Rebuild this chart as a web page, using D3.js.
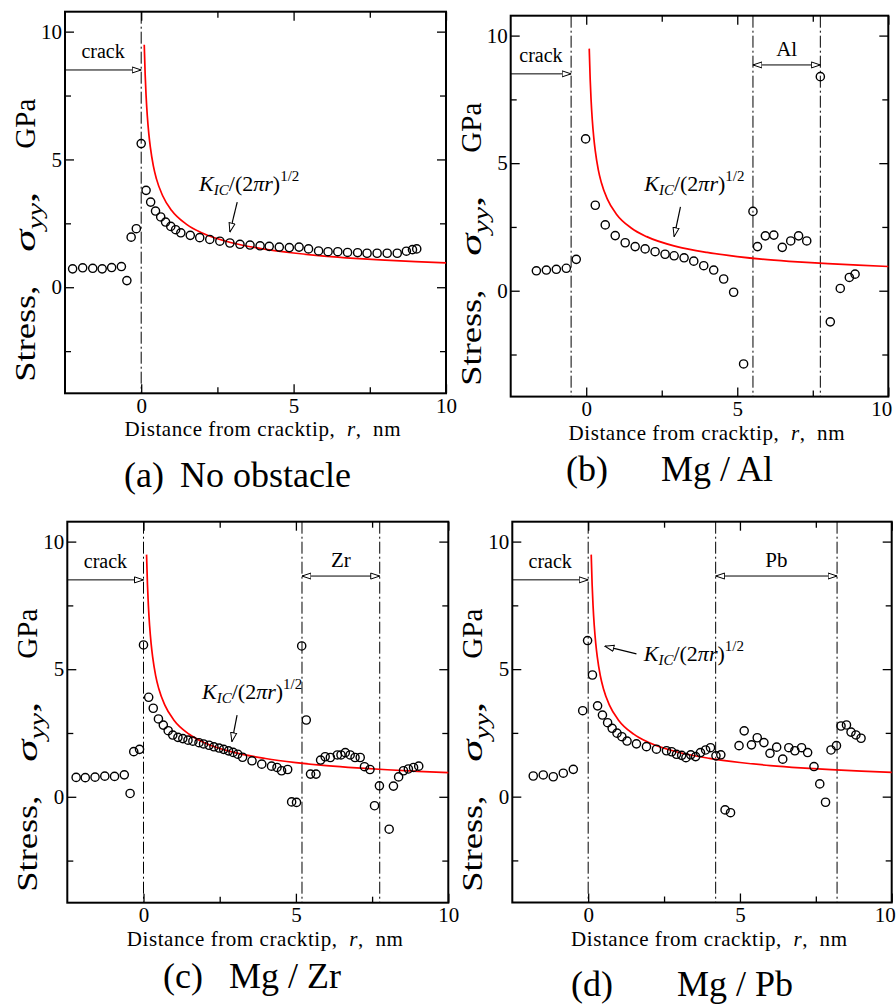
<!DOCTYPE html>
<html>
<head>
<meta charset="utf-8">
<script src="https://cdn.jsdelivr.net/npm/d3@7"></script>
<style>
  body { margin: 0; background: #fff; }
  svg { font-family: "Liberation Serif", "Times New Roman", serif; }
  text { white-space: pre; }
</style>
</head>
<body>
<svg id="chart" width="896" height="1008"></svg>
<script>
// ---- data ----
var panelTags = ["(a)", "(b)", "(c)", "(d)"];
var panelNames = ["No obstacle", "Mg / Al", "Mg / Zr", "Mg / Pb"];
var xMajor = [0, 5, 10], xMinor = [2.5, 7.5];
var yMajor = [0, 5, 10], yMinor = [-2.5, 2.5, 7.5];
var xDomain = [-2.5, 10], yDomain = [-4.15, 10.78];

// (a) no obstacle
var rA = [-2.25,-1.92,-1.59,-1.28,-0.97,-0.65,-0.47,-0.33,-0.16,0.0,0.16,0.31,0.47,0.64,0.80,0.97,1.13,1.30,1.61,1.92,2.25,2.58,2.91,3.24,3.57,3.90,4.20,4.53,4.86,5.18,5.49,5.82,6.13,6.45,6.77,7.10,7.41,7.74,8.07,8.40,8.70,8.90,9.04];
var sA = [0.72,0.76,0.74,0.72,0.77,0.81,0.26,1.96,2.29,5.62,3.79,3.33,2.98,2.75,2.55,2.38,2.25,2.13,2.03,1.94,1.87,1.80,1.73,1.68,1.65,1.62,1.60,1.57,1.55,1.57,1.50,1.42,1.39,1.39,1.36,1.35,1.33,1.33,1.33,1.33,1.41,1.47,1.50];
// (b) Mg / Al
var rB = [-1.65,-1.32,-0.99,-0.66,-0.33,-0.02,0.30,0.63,0.96,1.29,1.62,1.95,2.28,2.61,2.91,3.24,3.56,3.89,4.22,4.55,4.88,5.21,5.52,5.67,5.93,6.21,6.49,6.77,7.03,7.30,7.75,8.08,8.41,8.71,8.90];
var sB = [0.78,0.81,0.84,0.88,1.23,5.95,3.35,2.58,2.16,1.88,1.73,1.64,1.53,1.43,1.37,1.29,1.16,0.98,0.81,0.46,-0.06,-2.87,3.11,1.73,2.15,2.18,1.70,1.95,2.15,1.95,8.39,-1.22,0.09,0.52,0.65];
// (c) Mg / Zr
var rC = [-2.21,-1.91,-1.59,-1.27,-0.95,-0.63,-0.44,-0.32,-0.13,0.0,0.17,0.32,0.49,0.65,0.81,0.96,1.13,1.29,1.46,1.62,1.82,1.97,2.15,2.31,2.48,2.63,2.79,2.94,3.09,3.25,3.56,3.88,4.20,4.38,4.53,4.73,4.86,5.02,5.19,5.34,5.48,5.66,5.81,5.96,6.13,6.36,6.48,6.62,6.78,6.94,7.11,7.25,7.43,7.58,7.74,8.06,8.20,8.37,8.53,8.69,8.86,9.03];
var sC = [0.76,0.75,0.77,0.81,0.80,0.86,0.13,1.77,1.86,5.95,3.90,3.47,3.05,2.81,2.59,2.42,2.33,2.28,2.22,2.18,2.12,2.07,2.02,1.96,1.91,1.86,1.80,1.74,1.67,1.55,1.41,1.28,1.20,1.15,1.02,1.07,-0.20,-0.22,5.91,3.01,0.89,0.89,1.44,1.57,1.54,1.64,1.64,1.73,1.64,1.54,1.54,1.18,1.07,-0.35,0.43,-1.27,0.42,0.78,1.02,1.09,1.15,1.20];
// (d) Mg / Pb
var rD = [-1.81,-1.48,-1.15,-0.82,-0.49,-0.18,-0.02,0.14,0.31,0.47,0.64,0.79,0.95,1.11,1.28,1.59,1.92,2.25,2.58,2.75,2.91,3.08,3.22,3.38,3.54,3.70,3.87,4.03,4.21,4.37,4.51,4.69,4.97,5.14,5.38,5.57,5.79,5.99,6.21,6.41,6.61,6.81,7.03,7.23,7.44,7.63,7.82,8.00,8.18,8.33,8.51,8.66,8.82,8.99];
var sD = [0.81,0.85,0.78,0.92,1.07,3.37,6.12,4.77,3.56,3.20,2.90,2.68,2.49,2.35,2.18,2.07,1.96,1.86,1.80,1.76,1.66,1.62,1.53,1.64,1.57,1.73,1.83,1.92,1.60,1.64,-0.52,-0.63,2.00,2.58,2.03,2.31,2.12,1.70,1.94,1.47,1.92,1.80,1.92,1.73,1.18,0.50,-0.22,1.83,2.00,2.77,2.81,2.53,2.42,2.29];

// red curve K_IC/(2 pi r)^1/2
var curveR = [0.1,0.13,0.16,0.2,0.25,0.3,0.4,0.5,0.7,1,1.5,2,3,4,5,6,7,8,9,10];
var curveS = [9.49,8.32,7.50,6.71,6.00,5.48,4.74,4.24,3.59,3.00,2.45,2.12,1.73,1.50,1.34,1.22,1.13,1.06,1.00,0.95];

var crackR = [0, -0.5, 0, 0];
var layerR = [null, [5.52, 7.75], [5.2, 7.75], [4.2, 8.2]];
var layerNames = [null, "Al", "Zr", "Pb"];

var allR = [rA, rB, rC, rD], allS = [sA, sB, sC, sD];

// ---- layout ----
var boxes = [
  {left: 65,    right: 446,   top: 11.7,  bottom: 393.3},
  {left: 510.7, right: 888.3, top: 15.7,  bottom: 396.6},
  {left: 67.3,  right: 448.3, top: 521.7, bottom: 902.7},
  {left: 512.3, right: 891.7, top: 521.7, bottom: 902.5}
];
// caption placement: tag x, name x, baseline
var titlePos = [[124, 180, 487], [566, 661, 481], [163, 229, 988], [571, 677, 996]];
// K_IC label: [label r, label s, arrow from r,s, arrow to r,s]
var kLabel = [
  [1.9, 3.75, 3.15, 3.33, 2.91, 2.16],
  [1.92, 3.9, 3.12, 3.29, 2.91, 2.12],
  [1.92, 3.82, 3.07, 3.2, 2.9, 2.16],
  [1.83, 5.3, 1.59, 5.6, 0.55, 5.9]
];
var layerArrowS = [null, 8.85, 8.65, 8.65];

var svg = d3.select("#chart");

var defs = svg.append("defs");
defs.append("marker")
  .attr("id", "openArrow")
  .attr("markerUnits", "userSpaceOnUse")
  .attr("viewBox", "0 0 10 8")
  .attr("refX", 9.5).attr("refY", 4)
  .attr("markerWidth", 10).attr("markerHeight", 8)
  .attr("orient", "auto-start-reverse")
  .append("path")
  .attr("d", "M0.5,1 L9.5,4 L0.5,7 Z")
  .attr("fill", "white")
  .attr("stroke", "black")
  .attr("stroke-width", 1);

function drawPanel(i) {
  var b = boxes[i];
  var x = d3.scaleLinear().domain(xDomain).range([b.left, b.right]);
  var y = d3.scaleLinear().domain(yDomain).range([b.bottom, b.top]);
  var g = svg.append("g");

  // ticks, all drawn inward
  function ax(gen, vals, size, tx, ty, labels) {
    var a = gen.tickValues(vals).tickSize(size).tickSizeOuter(0);
    if (!labels) a.tickFormat("");
    var sel = g.append("g").attr("transform", "translate(" + tx + "," + ty + ")").call(a);
    sel.select(".domain").remove();
    sel.selectAll("line").attr("stroke", "black").attr("stroke-width", 1.3);
    sel.selectAll("text").attr("font-family", "Liberation Serif, serif").attr("font-size", 21).attr("fill", "black");
    return sel;
  }
  ax(d3.axisBottom(x), xMajor, -9, 0, b.bottom, true).call(function(s) {
    s.selectAll("text").attr("dy", "0.78em")
      .attr("dx", function(d) { return (d === 10 && b.right > 880) ? -7 : 0; });
  });
  ax(d3.axisBottom(x), xMinor, -6, 0, b.bottom, false);
  ax(d3.axisTop(x), xMajor, -9, 0, b.top, false);
  ax(d3.axisTop(x), xMinor, -6, 0, b.top, false);
  ax(d3.axisLeft(y), yMajor, -9, b.left, 0, true).call(function(s) { s.selectAll("text").attr("x", -3); });
  ax(d3.axisLeft(y), yMinor, -6, b.left, 0, false);
  ax(d3.axisRight(y), yMajor, -9, b.right, 0, false);
  ax(d3.axisRight(y), yMinor, -6, b.right, 0, false);

  // frame
  g.append("rect")
    .attr("x", b.left).attr("y", b.top)
    .attr("width", b.right - b.left).attr("height", b.bottom - b.top)
    .attr("fill", "none").attr("stroke", "black").attr("stroke-width", 2);

  // dash-dot boundaries
  var bounds = [crackR[i]].concat(layerR[i] || []);
  g.selectAll(".bound").data(bounds).enter().append("line")
    .attr("x1", function(d) { return x(d); }).attr("x2", function(d) { return x(d); })
    .attr("y1", b.top).attr("y2", b.bottom)
    .attr("stroke", "black").attr("stroke-width", 1)
    .attr("stroke-dasharray", "12,3,2,3");

  // crack arrow
  g.append("line")
    .attr("x1", x(xDomain[0])).attr("x2", x(crackR[i]))
    .attr("y1", y(8.5)).attr("y2", y(8.5))
    .attr("stroke", "black").attr("stroke-width", 1)
    .attr("marker-end", "url(#openArrow)");
  g.append("text")
    .attr("x", (x(xDomain[0]) + x(crackR[i])) / 2).attr("y", y(8.97))
    .attr("text-anchor", "middle").attr("font-size", 20)
    .text("crack");

  // obstacle layer arrow
  if (layerR[i]) {
    var ls = layerArrowS[i];
    g.append("line")
      .attr("x1", x(layerR[i][0])).attr("x2", x(layerR[i][1]))
      .attr("y1", y(ls)).attr("y2", y(ls))
      .attr("stroke", "black").attr("stroke-width", 1)
      .attr("marker-start", "url(#openArrow)")
      .attr("marker-end", "url(#openArrow)");
    g.append("text")
      .attr("x", (x(layerR[i][0]) + x(layerR[i][1])) / 2).attr("y", y(ls + 0.36))
      .attr("text-anchor", "middle").attr("font-size", 21)
      .text(layerNames[i]);
  }

  // theory curve
  var pts = curveR.map(function(r, k) { return [r, curveS[k]]; });
  g.append("path")
    .datum(pts)
    .attr("fill", "none").attr("stroke", "#ff0000").attr("stroke-width", 1.7)
    .attr("d", d3.line().x(function(d) { return x(d[0]); }).y(function(d) { return y(d[1]); }).curve(d3.curveMonotoneX));

  // MD data
  var data = allR[i].map(function(r, k) { return {r: r, s: allS[i][k]}; });
  g.selectAll(".pt").data(data).enter().append("circle")
    .attr("cx", function(d) { return x(d.r); })
    .attr("cy", function(d) { return y(d.s); })
    .attr("r", 4.1)
    .attr("fill", "none").attr("stroke", "black").attr("stroke-width", 1.4);

  // K_IC label + arrow
  var k = kLabel[i];
  var kt = g.append("text").attr("x", x(k[0])).attr("y", y(k[1])).attr("font-size", 22);
  kt.append("tspan").attr("font-style", "italic").text("K");
  kt.append("tspan").attr("font-style", "italic").attr("font-size", 15).attr("dy", 4).text("IC");
  kt.append("tspan").attr("dy", -4).text("/(2");
  kt.append("tspan").attr("font-style", "italic").text("πr");
  kt.append("tspan").text(")");
  kt.append("tspan").attr("font-size", 15).attr("dy", -10).text("1/2");
  g.append("line")
    .attr("x1", x(k[2])).attr("y1", y(k[3]))
    .attr("x2", x(k[4])).attr("y2", y(k[5]))
    .attr("stroke", "black").attr("stroke-width", 1.2)
    .attr("marker-end", "url(#openArrow)");

  // axis titles
  var xt = g.append("text")
    .attr("x", (b.left + b.right) / 2 + 7).attr("y", b.bottom + 43)
    .attr("text-anchor", "middle").attr("font-size", 21)
    .attr("textLength", 276).attr("lengthAdjust", "spacing");
  xt.append("tspan").text("Distance from cracktip,  ");
  xt.append("tspan").attr("font-style", "italic").text("r");
  xt.append("tspan").text(",  nm");

  // y title in three pieces along the left side
  var bx = b.left - 30;
  function yPiece(off, len) {
    return g.append("text")
      .attr("transform", "translate(" + bx + "," + (b.top + off) + ") rotate(-90)")
      .attr("text-anchor", "middle").attr("font-size", 30)
      .attr("textLength", len).attr("lengthAdjust", "spacingAndGlyphs");
  }
  yPiece(322, 96).text("Stress,");
  var sg = yPiece(210, 60);
  sg.append("tspan").attr("font-style", "italic").text("σ");
  sg.append("tspan").attr("font-style", "italic").attr("font-size", 20).attr("dy", 7).text("yy");
  sg.append("tspan").attr("dy", -7).text(",");
  yPiece(112, 50).text("GPa");

  // panel caption
  var tp = titlePos[i];
  svg.append("text").attr("x", tp[0]).attr("y", tp[2]).attr("font-size", 36).text(panelTags[i]);
  svg.append("text").attr("x", tp[1]).attr("y", tp[2]).attr("font-size", 36).text(panelNames[i]);
}

for (var i = 0; i < 4; i++) drawPanel(i);
</script>
</body>
</html>
